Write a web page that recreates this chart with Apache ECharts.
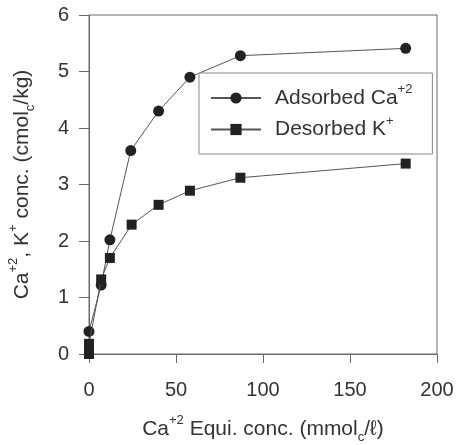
<!DOCTYPE html>
<html>
<head>
<meta charset="utf-8">
<script src="https://cdn.jsdelivr.net/npm/echarts@6/dist/echarts.min.js"></script>
<style>
  html, body { margin: 0; padding: 0; background: #fff; }
  #chart { width: 456px; height: 445px; }
</style>
</head>
<body>
<div id="chart"></div>
<script>
// Equilibrium Ca concentration (mmol_c/L) vs. exchanged cation amount (cmol_c/kg)
const adsorbedCaX = [0, 7, 12, 24, 40, 58, 87, 182];
const adsorbedCaY = [0.4, 1.22, 2.02, 3.6, 4.3, 4.9, 5.28, 5.41];
const desorbedKX = [0, 0, 0, 7, 12, 24.5, 40, 58, 87, 182];
const desorbedKY = [0, 0.1, 0.18, 1.32, 1.7, 2.29, 2.64, 2.89, 3.12, 3.37];
const xTicks = { min: 0, max: 200, interval: 50 };
const yTicks = { min: 0, max: 6, interval: 1 };
const seriesNames = ['Adsorbed Ca+2', 'Desorbed K+'];
const legendLabels = {
  'Adsorbed Ca+2': '{g|}{b|Adsorbed Ca}{sup|+2}',
  'Desorbed K+': '{g|}{b|Desorbed K}{sup|+}'
};
const xTitle = '{b|Ca}{sup|+2}{b| Equi. conc. (mmol}{sub|c}{b|/ℓ)}';
const yTitle = '{b|Ca}{sup|+2}{b|, K}{sup|+}{b| conc. (cmol}{sub|c}{b|/kg)}';

const pairs = (xs, ys) => xs.map((x, i) => [x, ys[i]]);

const FONT = '"Liberation Sans", Arial, sans-serif';
const TEXT = '#333';
const LINE = '#6a6a6a';

const richParts = (size) => ({
  g: { width: 9, lineHeight: 30 },
  b: { fontSize: size, fontFamily: FONT, color: TEXT, lineHeight: 30 },
  sup: { fontSize: Math.round(size * 0.62), fontFamily: FONT, color: TEXT, verticalAlign: 'top', lineHeight: 14 },
  sub: { fontSize: Math.round(size * 0.62), fontFamily: FONT, color: TEXT, verticalAlign: 'bottom', lineHeight: 14 }
});

const chart = echarts.init(document.getElementById('chart'), null, { renderer: 'canvas' });

chart.setOption({
  backgroundColor: '#fff',
  animation: false,
  grid: {
    left: 89, right: 19, top: 15, bottom: 91,
    containLabel: false,
    outerBoundsMode: 'none',
    show: true, borderColor: LINE, borderWidth: 1
  },
  legend: {
    orient: 'vertical',
    left: 199, top: 73,
    data: seriesNames,
    formatter: (name) => legendLabels[name],
    itemWidth: 50, itemHeight: 14,
    itemGap: 6,
    padding: [10, 20, 14, 11],
    borderColor: '#888', borderWidth: 1,
    backgroundColor: '#fff',
    textStyle: { fontFamily: FONT, fontSize: 21, color: TEXT, rich: richParts(21) }
  },
  xAxis: {
    type: 'value',
    min: xTicks.min, max: xTicks.max, interval: xTicks.interval,
    name: xTitle,
    nameLocation: 'middle',
    nameGap: 60,
    nameTextStyle: { rich: richParts(21) },
    axisLine: { show: true, onZero: false, lineStyle: { color: LINE, width: 1 } },
    axisTick: { show: true, inside: false, length: 9, lineStyle: { color: LINE } },
    axisLabel: { fontFamily: FONT, fontSize: 20, color: TEXT, margin: 26 },
    splitLine: { show: false }
  },
  yAxis: {
    type: 'value',
    min: yTicks.min, max: yTicks.max, interval: yTicks.interval,
    name: yTitle,
    nameLocation: 'middle',
    nameRotate: 90,
    nameGap: 52,
    nameTextStyle: { rich: richParts(21) },
    axisLine: { show: true, onZero: false, lineStyle: { color: LINE, width: 1 } },
    axisTick: { show: true, inside: false, length: 10, lineStyle: { color: LINE } },
    axisLabel: { fontFamily: FONT, fontSize: 20, color: TEXT, margin: 20 },
    splitLine: { show: false }
  },
  series: [
    {
      name: seriesNames[0],
      type: 'line',
      data: pairs(adsorbedCaX, adsorbedCaY),
      symbol: 'circle',
      symbolSize: 11,
      showAllSymbol: true,
      lineStyle: { color: '#555', width: 1 },
      itemStyle: { color: '#222', borderWidth: 0 },
      z: 3
    },
    {
      name: seriesNames[1],
      type: 'line',
      data: pairs(desorbedKX, desorbedKY),
      symbol: 'rect',
      symbolSize: 10,
      showAllSymbol: true,
      lineStyle: { color: '#555', width: 1 },
      itemStyle: { color: '#222', borderWidth: 0 },
      z: 4
    }
  ]
});
</script>
</body>
</html>
